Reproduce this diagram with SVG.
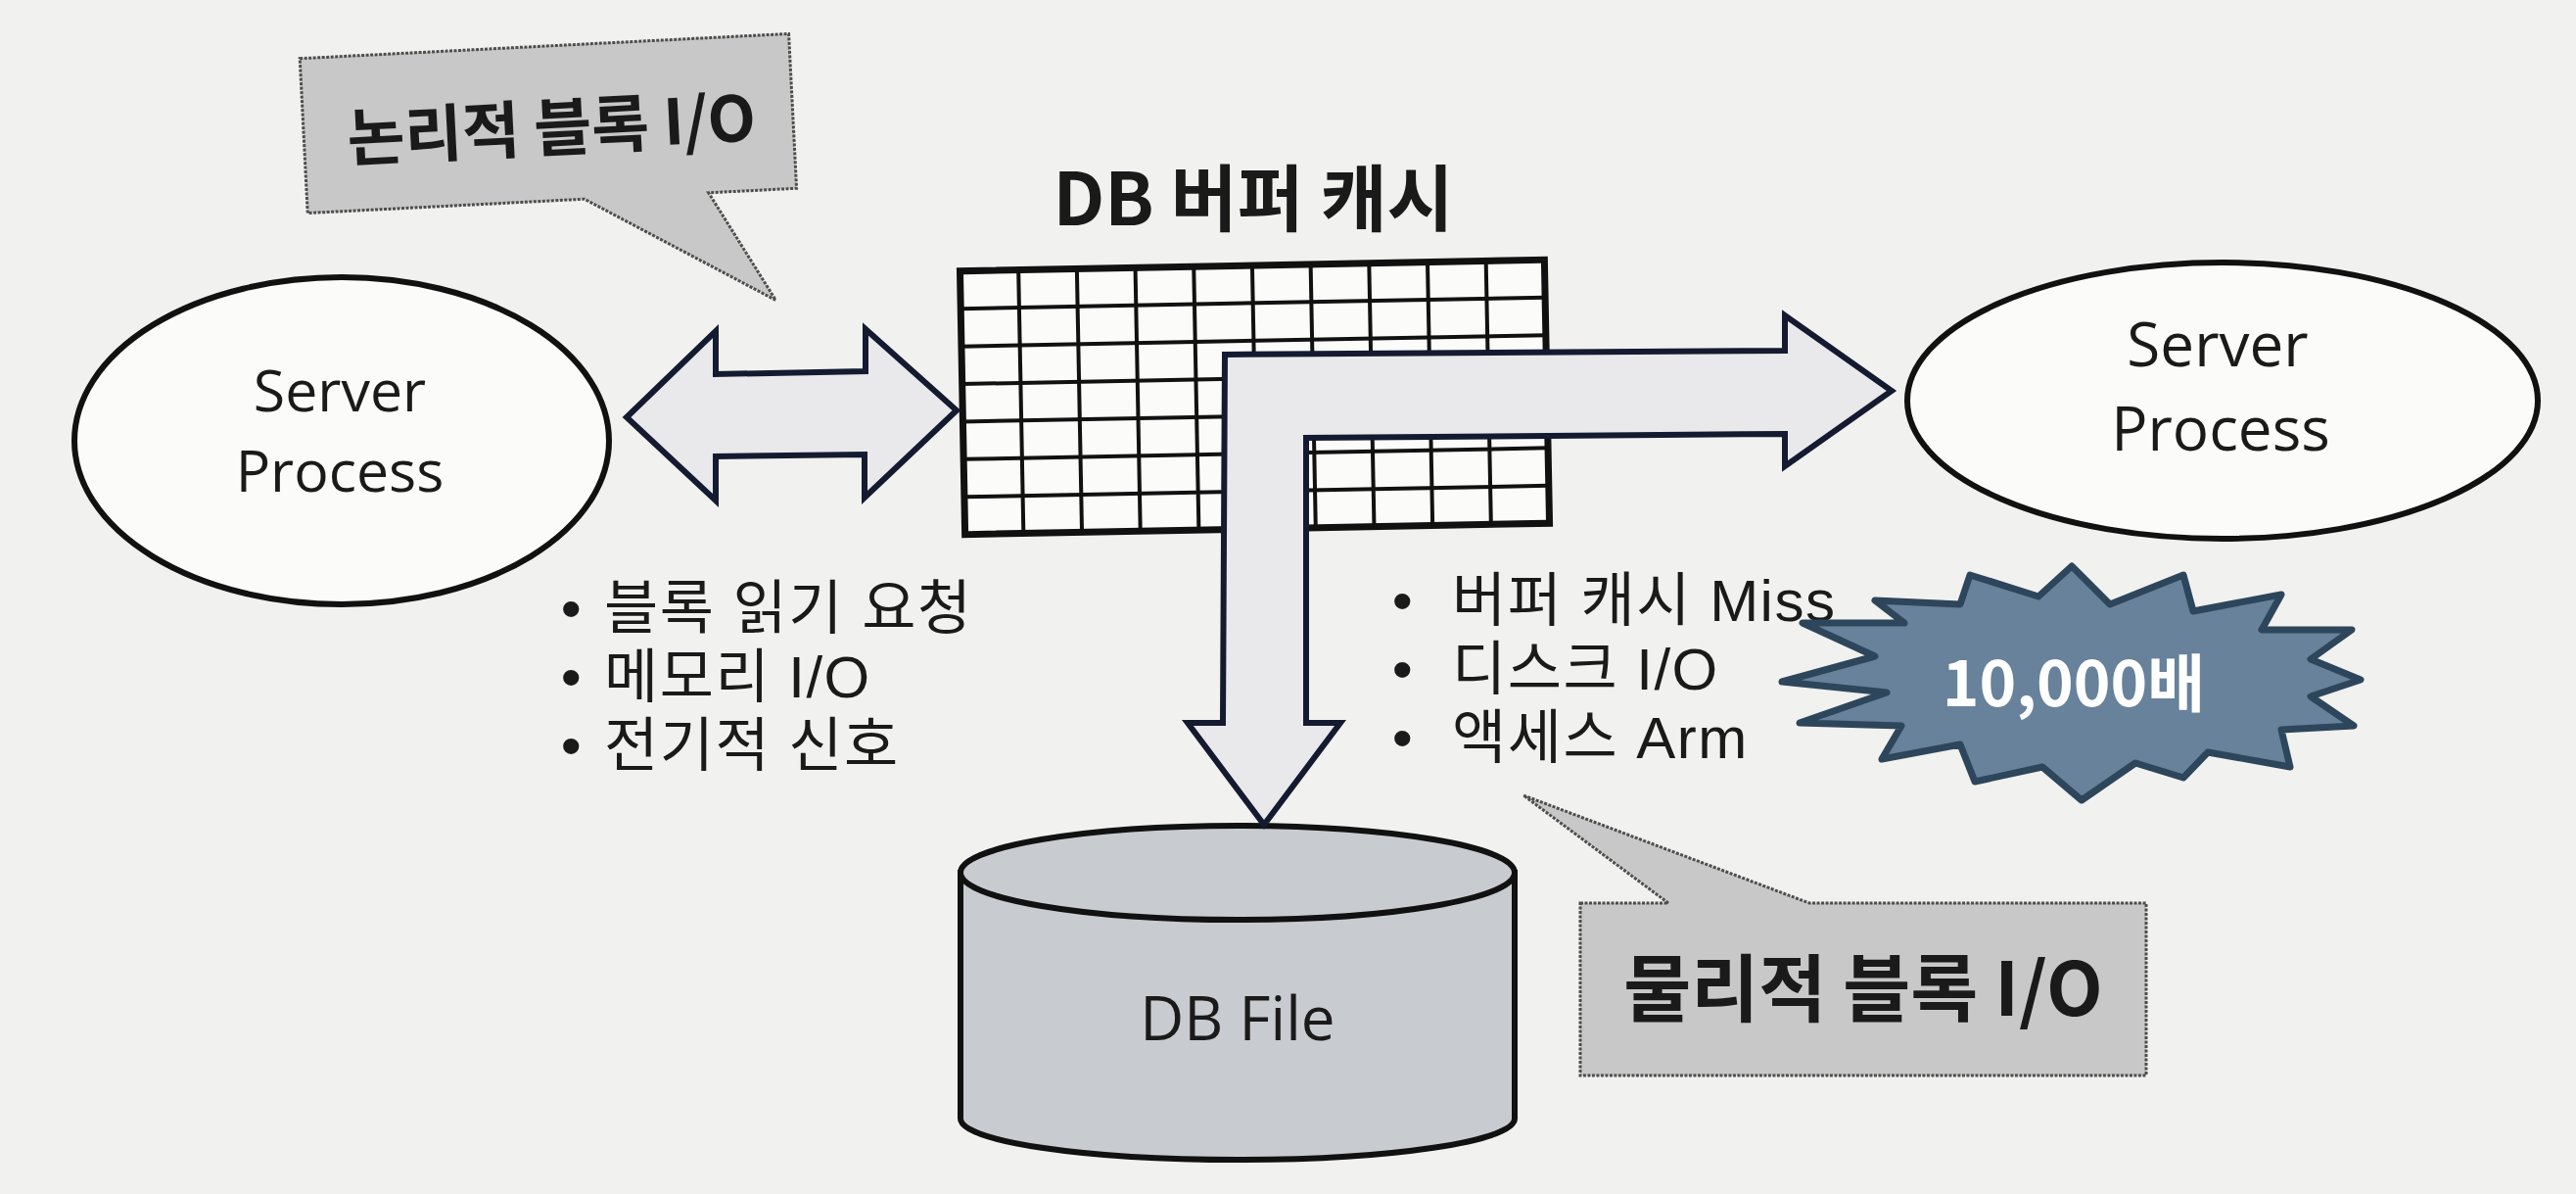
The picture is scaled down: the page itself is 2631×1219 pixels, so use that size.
<svg xmlns="http://www.w3.org/2000/svg" width="2631" height="1219" viewBox="0 0 2631 1219">
<defs>
<style>
.bg{fill:#f1f1ef}
.ell{fill:#fbfbfa;stroke:#111;stroke-width:6}
.lbl{font-family:"Open Sans","Noto Sans CJK KR",sans-serif;fill:#1a1a1a;text-anchor:middle}
.kr{font-family:"Noto Sans CJK KR","Noto Sans",sans-serif;fill:#1a1a1a}
.note{font-family:"Liberation Sans","Noto Sans CJK KR",sans-serif;fill:#1a1a1a;font-size:60px;letter-spacing:1.5px}
.bold{font-weight:700}
.arrow{fill:#e9e9eb;stroke:#141b31;stroke-width:6;stroke-linejoin:miter}
.grid line{stroke:#111;stroke-width:4}
.gridbox{fill:#fbfbfa;stroke:#111;stroke-width:7}
.callout{fill:#c8c8c8;stroke:#4d4d4d;stroke-width:3;stroke-dasharray:3 1.5}
.cyl{fill:#c8ccd0;stroke:#111;stroke-width:6}
.star{fill:#67829a;stroke:#2e465b;stroke-width:7;stroke-linejoin:round}
</style>
</defs>
<rect class="bg" x="0" y="0" width="2631" height="1219"/>

<g id="callout-logical" transform="rotate(-2.9 560 128)">
<path class="callout" d="M310,47 L810,47 L810,205 L720,205 L783,318 L593,205 L310,205 Z"/>
<text class="kr bold" x="563" y="154" font-size="64" text-anchor="middle">논리적 블록 I/O</text>
</g>

<g id="server-process-left">
<ellipse class="ell" cx="349" cy="450" rx="273" ry="167"/>
<text class="lbl" x="347" y="420" font-size="59">Server</text>
<text class="lbl" x="347" y="502" font-size="59">Process</text>
</g>

<g id="db-buffer-cache">
<text class="kr bold" x="1280" y="230" font-size="74" text-anchor="middle">DB 버퍼 캐시</text>
<g class="grid" transform="rotate(-1.1 1281 405)">
<rect class="gridbox" x="983" y="271" width="597" height="269"/>
<line x1="1042.7" y1="271" x2="1042.7" y2="540"/>
<line x1="1102.4" y1="271" x2="1102.4" y2="540"/>
<line x1="1162.1" y1="271" x2="1162.1" y2="540"/>
<line x1="1221.8" y1="271" x2="1221.8" y2="540"/>
<line x1="1281.5" y1="271" x2="1281.5" y2="540"/>
<line x1="1341.2" y1="271" x2="1341.2" y2="540"/>
<line x1="1400.9" y1="271" x2="1400.9" y2="540"/>
<line x1="1460.6" y1="271" x2="1460.6" y2="540"/>
<line x1="1520.3" y1="271" x2="1520.3" y2="540"/>
<line x1="983" y1="309.4" x2="1580" y2="309.4"/>
<line x1="983" y1="347.9" x2="1580" y2="347.9"/>
<line x1="983" y1="386.3" x2="1580" y2="386.3"/>
<line x1="983" y1="424.7" x2="1580" y2="424.7"/>
<line x1="983" y1="463.1" x2="1580" y2="463.1"/>
<line x1="983" y1="501.6" x2="1580" y2="501.6"/>
</g>
</g>

<g id="server-process-right">
<ellipse class="ell" cx="2270" cy="409" rx="322" ry="141"/>
<text class="lbl" x="2265" y="374" font-size="62">Server</text>
<text class="lbl" x="2268" y="460" font-size="62">Process</text>
</g>

<g id="db-file">
<path class="cyl" d="M981,891 L981,1142 A283,42 0 0 0 1547,1142 L1547,891 Z"/>
<ellipse class="cyl" cx="1264" cy="891" rx="283" ry="48"/>
<text class="lbl" x="1264" y="1062" font-size="62">DB File</text>
</g>

<g id="connectors">
<path id="arrow-logical-io" class="arrow" d="M640,426 L731,338 L731,382 L884,379 L884,336 L977,419 L883,508 L883,464 L731,466 L731,511 Z"/>
<path id="arrow-physical-io" class="arrow" d="M1251,362 L1823,358 L1823,322 L1932,399 L1823,476 L1823,443 L1334,447 L1334,738 L1369,738 L1291,842 L1213,738 L1249,738 Z"/>
</g>

<g id="notes-logical">
<text class="note" x="584" y="642" text-anchor="middle">•</text>
<text class="note" x="617" y="642">블록 읽기 요청</text>
<text class="note" x="584" y="712" text-anchor="middle">•</text>
<text class="note" x="617" y="712">메모리 I/O</text>
<text class="note" x="584" y="782" text-anchor="middle">•</text>
<text class="note" x="617" y="782">전기적 신호</text>
</g>

<g id="notes-physical">
<text class="note" x="1433" y="634" text-anchor="middle">•</text>
<text class="note" x="1483" y="634">버퍼 캐시 Miss</text>
<text class="note" x="1433" y="704" text-anchor="middle">•</text>
<text class="note" x="1483" y="704">디스크 I/O</text>
<text class="note" x="1433" y="774" text-anchor="middle">•</text>
<text class="note" x="1483" y="774">액세스 Arm</text>
</g>

<g id="burst-10000">
<polygon class="star" points="2116,578 2155,617 2230,587 2240,624 2330,607 2310,643 2402,643 2360,673 2411,694 2360,711 2404,741 2330,745 2339,783 2255,768 2230,794 2181,779 2126,817 2086,783 2017,798 2002,760 1922,775 1942,741 1838,738 1927,707 1820,696 1915,670 1841,636 1945,636 1915,613 2002,617 2012,587 2082,609"/>
<text class="kr bold" x="2118" y="721" font-size="64" text-anchor="middle" style="fill:#ffffff">10,000배</text>
</g>

<g id="callout-physical">
<path class="callout" d="M1614,922 L1704,922 L1556,812 L1848,922 L2192,922 L2192,1098 L1614,1098 Z"/>
<text class="kr bold" x="1903" y="1037" font-size="75" text-anchor="middle">물리적 블록 I/O</text>
</g>
</svg>
